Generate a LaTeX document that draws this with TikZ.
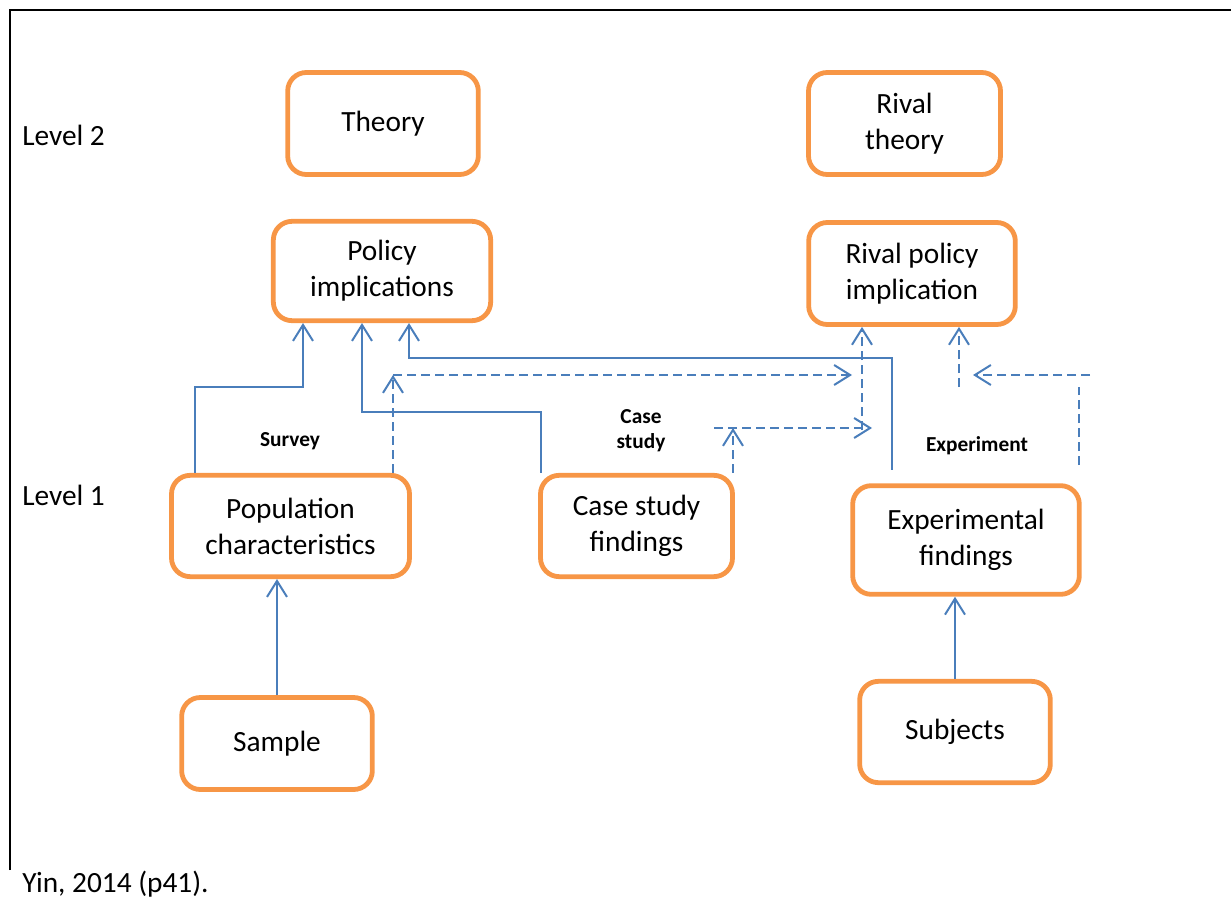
\documentclass[tikz,border=0pt]{standalone}
\usepackage{fontspec}
\setmainfont{Carlito}
\usepackage{tikz}
\usetikzlibrary{arrows.meta}
\usepackage{xcolor}
\definecolor{boxorange}{HTML}{F79646}
\definecolor{linkblue}{HTML}{4A7EBB}

\tikzset{
  box/.style={draw=boxorange, line width=3.6pt, rounded corners=14pt, fill=white,
    align=center, inner sep=2pt, font=\fontsize{22}{27}\selectfont},
  conn/.style={draw=linkblue, line width=1.5pt, -{Straight Barb[length=12pt,width=15pt,line width=1.5pt]}},
  dconn/.style={conn, dash pattern=on 6.5pt off 4pt},
  tag/.style={font=\bfseries\fontsize{16}{19}\selectfont, align=center},
  level/.style={anchor=west, inner sep=0pt, font=\fontsize{22}{27}\selectfont}
}

\begin{document}
\begin{tikzpicture}[x=0.75pt, y=-0.75pt]
            \useasboundingbox (0,0) rectangle (1231,902);
            % frame
            \draw[line width=2.2pt] (10,870) -- (10,10) -- (1240,10);

            \node[level] (lvltwo) at (22,135) {Level 2};
            \node[level] (lvlone) at (22,495) {Level 1};
            \node[level, anchor=base west] (src) at (22,892) {Yin, 2014 (p41).};

            % level 2
            \node[box, minimum width=143pt, minimum height=76.5pt] (theory) at (383,123.5) {Theory};
            \node[box, minimum width=144pt, minimum height=76.5pt] (rtheory) at (904.5,123.5) {Rival\\theory};
            \node[box, minimum width=163pt, minimum height=74.5pt] (pol) at (382,271) {Policy\\implications};
            \node[box, minimum width=155pt, minimum height=76.5pt] (rpol) at (912,273.5) {Rival policy\\implication};

            % level 1
            \node[box, minimum width=178.5pt, minimum height=76pt] (pop) at (290.5,526) {Population\\characteristics};
            \node[box, minimum width=144pt, minimum height=76pt] (case) at (636.5,526) {Case study\\findings};
            \node[box, minimum width=170pt, minimum height=81.5pt] (exp) at (966,540) {Experimental\\findings};
            \node[box, minimum width=143pt, minimum height=69pt] (sample) at (277,743.5) {Sample};
            \node[box, minimum width=143pt, minimum height=76pt] (subj) at (955,732) {Subjects};

            \node[tag] (survey) at (290,441) {Survey};
            \node[tag] (cstudy) at (641,431) {Case\\study};
            \node[tag] (experiment) at (977,446) {Experiment};

            % bends and loose ends
            \coordinate (sv1) at (195,387);
            \coordinate (sv2) at (303,387);
            \coordinate (cs1) at (541,412);
            \coordinate (cs2) at (362,412);
            \coordinate (ex1) at (892,358);
            \coordinate (ex2) at (409,358);
            \coordinate (sd1) at (393,375);
            \coordinate (sd2) at (852,375);
            \coordinate (cd0) at (714,428);
            \coordinate (cd1) at (733,428);
            \coordinate (cd2) at (872,428);
            \coordinate (rd1) at (862,430);
            \coordinate (ed1) at (1079,465);
            \coordinate (ed2) at (1079,387);
            \coordinate (ed3) at (1090,375);
            \coordinate (ed4) at (973,375);
            \coordinate (ed5) at (959,387);

            \draw[conn] (sample.north) -- (sample.north |- pop.south);
            \draw[conn] (subj.north) -- (subj.north |- exp.south);

            % solid links to policy implications
            \draw[conn] (sv1 |- pop.north) -- (sv1) -- (sv2) -- (sv2 |- pol.south);
            \draw[conn] (cs1 |- case.north) -- (cs1) -- (cs2) -- (cs2 |- pol.south);
            \draw[conn, shorten <=10pt] (ex1 |- exp.north) -- (ex1) -- (ex2) -- (ex2 |- pol.south);

            % dashed links to rival policy implication
            \draw[dconn] (sd1 |- pop.north) -- (sd1);
            \draw[dconn] (sd1) -- (sd2);
            \draw[dconn] (cd1 |- case.north) -- (cd1);
            \draw[dconn] (cd0) -- (cd2);
            \draw[dconn] (rd1) -- (rd1 |- rpol.south);
            \draw[dconn, -] (ed1) -- (ed2);
            \draw[dconn] (ed3) -- (ed4);
            \draw[dconn] (ed5) -- (ed5 |- rpol.south);
\end{tikzpicture}
\end{document}
